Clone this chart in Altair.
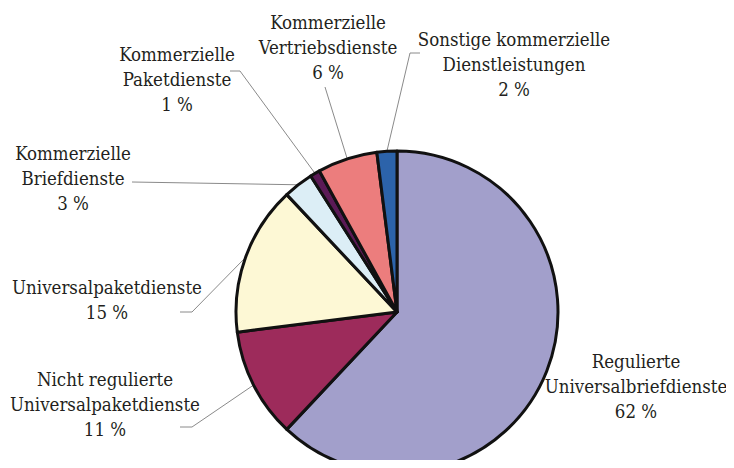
import math
import altair as alt
import pandas as pd

# ---- data ----
categories = [
    "Regulierte Universalbriefdienste",
    "Nicht regulierte Universalpaketdienste",
    "Universalpaketdienste",
    "Kommerzielle Briefdienste",
    "Kommerzielle Paketdienste",
    "Kommerzielle Vertriebsdienste",
    "Sonstige kommerzielle Dienstleistungen",
]
label_texts = [
    "Regulierte\nUniversalbriefdienste",
    "Nicht regulierte\nUniversalpaketdienste",
    "Universalpaketdienste",
    "Kommerzielle\nBriefdienste",
    "Kommerzielle\nPaketdienste",
    "Kommerzielle\nVertriebsdienste",
    "Sonstige kommerzielle\nDienstleistungen",
]
shares = [62, 11, 15, 3, 1, 6, 2]

# ---- styles / layout ----
colors = ["#A29FCB", "#9D2B5B", "#FDF8D5", "#DCEEF6", "#5B1A56", "#EC7D7D", "#2C63AA"]
W, H = 718, 452
CX, CY, R = 389, 304, 161
# position of first text line (center x, middle y)
label_pos = [(628, 354), (97, 372), (99, 280), (65, 146), (169, 47), (320, 15), (506, 32)]
leader_start = [
    [],
    [(172, 419), (184, 419)],
    [(172, 304), (184, 304)],
    [(124, 174)],
    [(222, 63), (232, 63)],
    [(317, 79)],
    [(412, 45), (402, 45)],
]

pie_df = pd.DataFrame({
    "cat": categories,
    "value": shares,
    "idx": list(range(len(categories))),
})

text_rows = []
line_rows = []
cum = 0.0
total = float(sum(shares))
for i, (cat, txt, v) in enumerate(zip(categories, label_texts, shares)):
    mid = (cum + v / 2.0) / total * 2 * math.pi
    cum += v
    lx, ly = label_pos[i]
    text_rows.append({"cat": cat, "label": f"{txt}\n{v} %", "px": lx, "py": ly})
    pts = leader_start[i]
    if pts:
        ex = CX + R * math.sin(mid)
        ey = CY - R * math.cos(mid)
        for k, (x, y) in enumerate(pts + [(ex, ey)]):
            line_rows.append({"cat": cat, "k": k, "px": x, "py": y})

text_df = pd.DataFrame(text_rows)
line_df = pd.DataFrame(line_rows)

pie = alt.Chart(pie_df).mark_arc(
    outerRadius=R, stroke="#111111", strokeWidth=3, strokeJoin="round"
).encode(
    theta=alt.Theta("value:Q", stack=True),
    order=alt.Order("idx:Q", sort="ascending"),
    color=alt.Color("cat:N", scale=alt.Scale(domain=categories, range=colors), legend=None),
    x=alt.value(CX),
    y=alt.value(CY),
)

leaders = alt.Chart(line_df).mark_line(color="#8a8a8a", strokeWidth=1).encode(
    x=alt.X("px:Q", scale=None, axis=None),
    y=alt.Y("py:Q", scale=None, axis=None),
    detail="cat:N",
    order="k:Q",
)

labels = alt.Chart(text_df).mark_text(
    font="DejaVu Serif Condensed", fontSize=18.5, color="#231F20",
    align="center", baseline="middle", lineBreak="\n", lineHeight=25,
).encode(
    x=alt.X("px:Q", scale=None, axis=None),
    y=alt.Y("py:Q", scale=None, axis=None),
    text="label:N",
)

chart = alt.layer(leaders, pie, labels).properties(
    width=W, height=H,
    autosize=alt.AutoSizeParams(type="none"),
    padding=0,
).configure_view(stroke=None)

chart.save("out.html", embed_options={"renderer": "svg", "actions": False})
